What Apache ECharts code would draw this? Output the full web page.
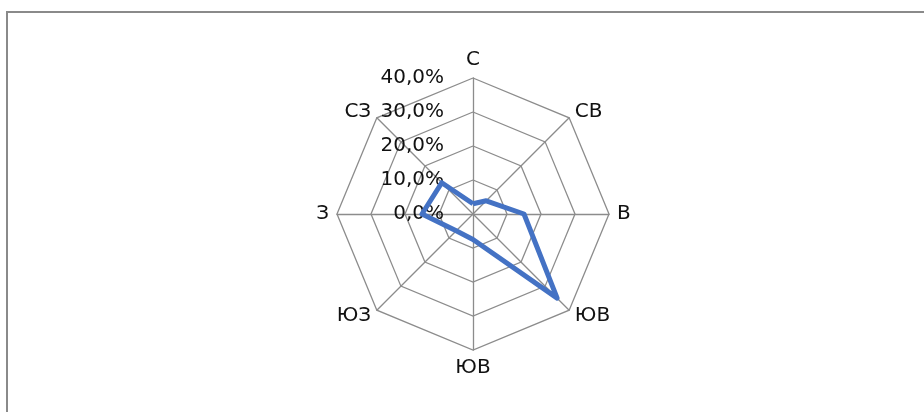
<!DOCTYPE html>
<html>
<head>
<meta charset="utf-8">
<title>Роза ветров</title>
<script src="https://cdn.jsdelivr.net/npm/echarts@6/dist/echarts.min.js"></script>
<style>
  html, body { margin: 0; padding: 0; background: #ffffff; }
  #chart { width: 924px; height: 412px; }
</style>
</head>
<body>
<div id="chart"></div>
<script>
// Directions, listed clockwise from north
const directions = ['С', 'СВ', 'В', 'ЮВ', 'ЮВ', 'ЮЗ', 'З', 'СЗ'];
// Share of each direction, %
const shares = [3, 5.5, 15, 35, 7.5, 7, 15, 13];
// Radial scale
const scaleMax = 40;
const scaleSteps = 4;

// ECharts lays indicators out counter-clockwise, so keep north first and reverse the rest
const order = [0].concat(directions.map((_, i) => i).slice(1).reverse());

const fmtPct = v => v.toFixed(1).replace('.', ',') + '%';

const indicators = order.map((idx, k) => {
  const ind = { name: directions[idx], min: 0, max: scaleMax };
  if (k === 0) {
    ind.axisLabel = {
      show: true,
      formatter: v => fmtPct(v),
      color: '#111111',
      fontFamily: 'DejaVu Sans',
      fontSize: 20,
      margin: 29
    };
  }
  return ind;
});

const chart = echarts.init(document.getElementById('chart'), null, { renderer: 'canvas' });

chart.setOption({
  backgroundColor: '#ffffff',
  animation: false,
  graphic: [{
    type: 'rect',
    shape: { x: 7, y: 12, width: 940, height: 430 },
    style: { fill: 'none', stroke: '#8a8a8a', lineWidth: 2 },
    silent: true
  }],
  radar: {
    center: [473, 214],
    radius: 136,
    startAngle: 90,
    splitNumber: scaleSteps,
    shape: 'polygon',
    indicator: indicators,
    axisName: {
      color: '#111111',
      fontFamily: 'DejaVu Sans',
      fontSize: 20
    },
    nameGap: 8,
    axisLine: { lineStyle: { color: '#8c8c8c', width: 1.3 } },
    splitLine: { lineStyle: { color: '#8c8c8c', width: 1.3 } },
    splitArea: { show: false },
    axisTick: { show: false },
    axisLabel: { show: false }
  },
  series: [{
    type: 'radar',
    symbol: 'none',
    lineStyle: { color: '#4472C4', width: 5 },
    data: [{ value: order.map(i => shares[i]), name: 'Повторяемость' }]
  }]
});
</script>
</body>
</html>
